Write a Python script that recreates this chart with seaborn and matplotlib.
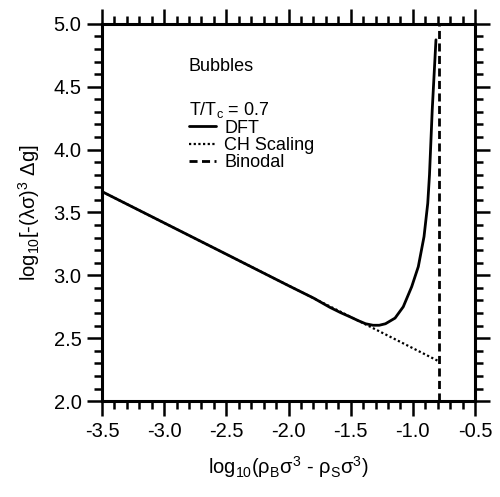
import numpy as np
import pandas as pd
import matplotlib
matplotlib.use('Agg')
import matplotlib.pyplot as plt
from matplotlib.ticker import MultipleLocator
import seaborn as sns

# Data
dft_x = [-3.5, -3.0, -2.5, -2.0, -1.8, -1.666, -1.58, -1.505, -1.44, -1.38,
         -1.32, -1.27, -1.22, -1.143, -1.077, -1.009, -0.956, -0.910, -0.880,
         -0.866, -0.844, -0.814]
dft_y = [3.666, 3.417, 3.168, 2.918, 2.82, 2.745, 2.703, 2.67, 2.64, 2.615,
         2.603, 2.603, 2.615, 2.66, 2.75, 2.91, 3.069, 3.308, 3.573,
         3.80, 4.316, 4.873]
ch_x = [-3.5, -0.786]
ch_y = [3.666, 2.314]
binodal_x = [-0.786, -0.786]
binodal_y = [2.0, 5.0]

# Style
sns.set_style('ticks')
plt.rcParams['font.family'] = ['Liberation Sans', 'DejaVu Sans']
plt.rcParams['mathtext.fontset'] = 'custom'
plt.rcParams['mathtext.rm'] = 'Liberation Sans'
plt.rcParams['mathtext.it'] = 'Liberation Sans:italic'
plt.rcParams['axes.unicode_minus'] = False
plt.rcParams['text.color'] = 'black'
plt.rcParams['axes.labelcolor'] = 'black'
plt.rcParams['xtick.color'] = 'black'
plt.rcParams['ytick.color'] = 'black'

fig = plt.figure(figsize=(5, 4.97), dpi=100)
ax = fig.add_axes([0.204, 0.193, 0.746, 0.759])

sns.lineplot(x=ch_x, y=ch_y, ax=ax, color='black', lw=1.6,
             linestyle=(0, (1, 1.1)), estimator=None, sort=False)
sns.lineplot(x=dft_x, y=dft_y, ax=ax, color='black', lw=2.0,
             estimator=None, sort=False)
sns.lineplot(x=binodal_x, y=binodal_y, ax=ax, color='black', lw=2.0,
             linestyle=(0, (2.9, 1.6)), estimator=None, sort=False)

lines = ax.get_lines()
ax.legend([lines[1], lines[0], lines[2]], ['DFT', 'CH Scaling', 'Binodal'],
          loc='upper left', bbox_to_anchor=(0.233, 0.746), frameon=False,
          fontsize=13, handlelength=1.5, handletextpad=0.45,
          labelspacing=0.02, borderpad=0, borderaxespad=0)

ax.text(0.233, 0.876, 'Bubbles', transform=ax.transAxes, fontsize=13,
        va='baseline', ha='left')
ax.text(0.233, 0.758, r'T/T$_\mathregular{c}$ = 0.7', transform=ax.transAxes,
        fontsize=13, va='baseline', ha='left')

# Axes
ax.set_xlim(-3.5, -0.5)
ax.set_ylim(2.0, 5.0)
ax.xaxis.set_major_locator(MultipleLocator(0.5))
ax.xaxis.set_minor_locator(MultipleLocator(0.1))
ax.yaxis.set_major_locator(MultipleLocator(0.5))
ax.yaxis.set_minor_locator(MultipleLocator(0.1))
ax.tick_params(which='both', direction='out', top=True, right=True,
               labeltop=False, labelright=False, width=1.8)
ax.tick_params(which='major', length=10.8, labelsize=14.5, pad=4)
ax.tick_params(which='minor', length=5.8)
for s in ax.spines.values():
    s.set_visible(True)
    s.set_linewidth(2.2)
    s.set_color('black')

ax.set_xlabel(r'log$_\mathregular{10}$($\mathregular{\rho_B\sigma^3}$ - '
              r'$\mathregular{\rho_S\sigma^3}$)', fontsize=14.5, labelpad=10)
ax.set_ylabel(r'log$_\mathregular{10}$[-($\mathregular{\lambda\sigma}$)'
              r'$^\mathregular{3}$ Δg]', fontsize=14.5, labelpad=8)

fig.savefig('out.png', dpi=100)
